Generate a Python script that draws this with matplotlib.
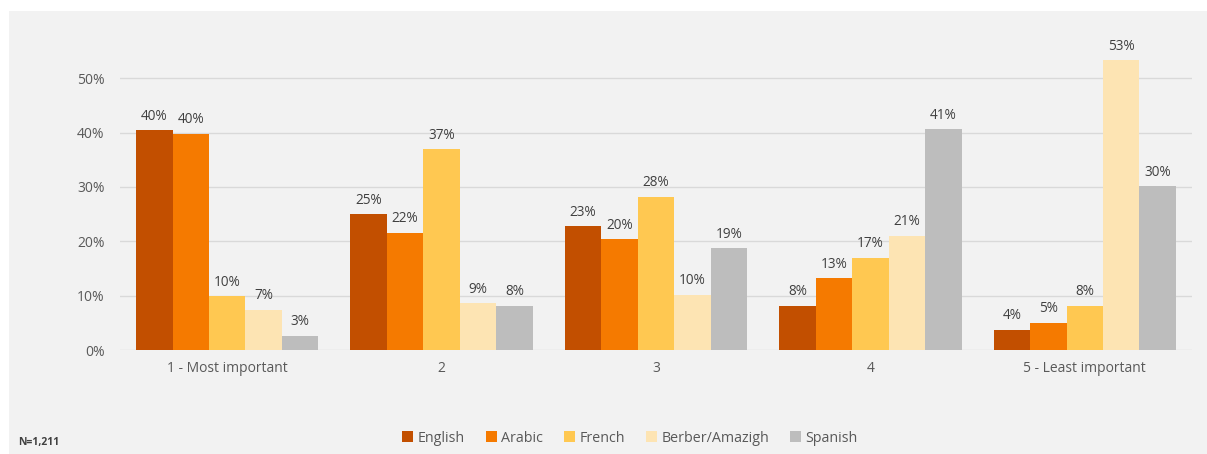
import matplotlib
matplotlib.use("Agg")
import matplotlib.pyplot as plt
import numpy as np
from matplotlib.patches import Rectangle

categories = ["1 - Most important", "2", "3", "4", "5 - Least important"]
series_names = ["English", "Arabic", "French", "Berber/Amazigh", "Spanish"]
english = [40.4, 25.0, 22.8, 8.1, 3.7]
arabic = [39.8, 21.6, 20.4, 13.2, 5.0]
french = [9.9, 36.9, 28.2, 17.0, 8.1]
berber = [7.4, 8.6, 10.2, 21.0, 53.3]
spanish = [2.6, 8.1, 18.7, 40.6, 30.1]
yticks = [0, 10, 20, 30, 40, 50]
note = "N=1,211"

colors = ["#C24F00", "#F57A00", "#FFC851", "#FDE4B3", "#BDBDBD"]
series = [english, arabic, french, berber, spanish]

plt.rcParams['font.family'] = ['Open Sans', 'DejaVu Sans']

fig = plt.figure(figsize=(12.07, 4.54), dpi=100, facecolor="white")
fig.patches.append(Rectangle((9/1207, 0), 1 - 9/1207, 1 - 11/454,
                             transform=fig.transFigure, facecolor="#F2F2F2",
                             edgecolor="none", zorder=-10))

ax = fig.add_axes([120/1207, 1 - 350/454, 1072/1207, 299/454])
ax.set_facecolor("none")
ax.set_zorder(5)

x = np.arange(len(categories))
w = 0.17
for i, (name, vals, c) in enumerate(zip(series_names, series, colors)):
    pos = x + (i - 2) * w
    bars = ax.bar(pos, vals, width=w, color=c, label=name, zorder=3)
    for b, v in zip(bars, vals):
        ax.text(b.get_x() + b.get_width() / 2, v + 1.2, f"{v:.0f}%",
                ha="center", va="bottom", fontsize=9.8, color="#404040")

ax.set_xlim(-0.5, 4.5)
ax.set_ylim(0, 55)
ax.set_yticks(yticks)
ax.set_yticklabels([f"{t}%" for t in yticks])
ax.set_xticks(x)
ax.set_xticklabels(categories)
ax.tick_params(axis="both", length=0, labelsize=10, colors="#595959")
ax.tick_params(axis="y", pad=11)
ax.tick_params(axis="x", pad=8)
ax.grid(axis="y", color="#D9D9D9", linewidth=1, zorder=0)
for s in ax.spines.values():
    s.set_visible(False)

ax.legend(loc="center", bbox_to_anchor=(630/1207, 1 - 438/454),
          bbox_transform=fig.transFigure, ncol=5, frameon=False,
          fontsize=10.3, handlelength=0.75, handleheight=0.75,
          handletextpad=0.3, columnspacing=1.5, labelcolor="#595959")

fig.text(18/1207, 1 - 443/454, note, fontsize=7.5, fontweight="bold",
         color="#404040", ha="left", va="center")

fig.savefig("out.png", dpi=100, facecolor="white")
